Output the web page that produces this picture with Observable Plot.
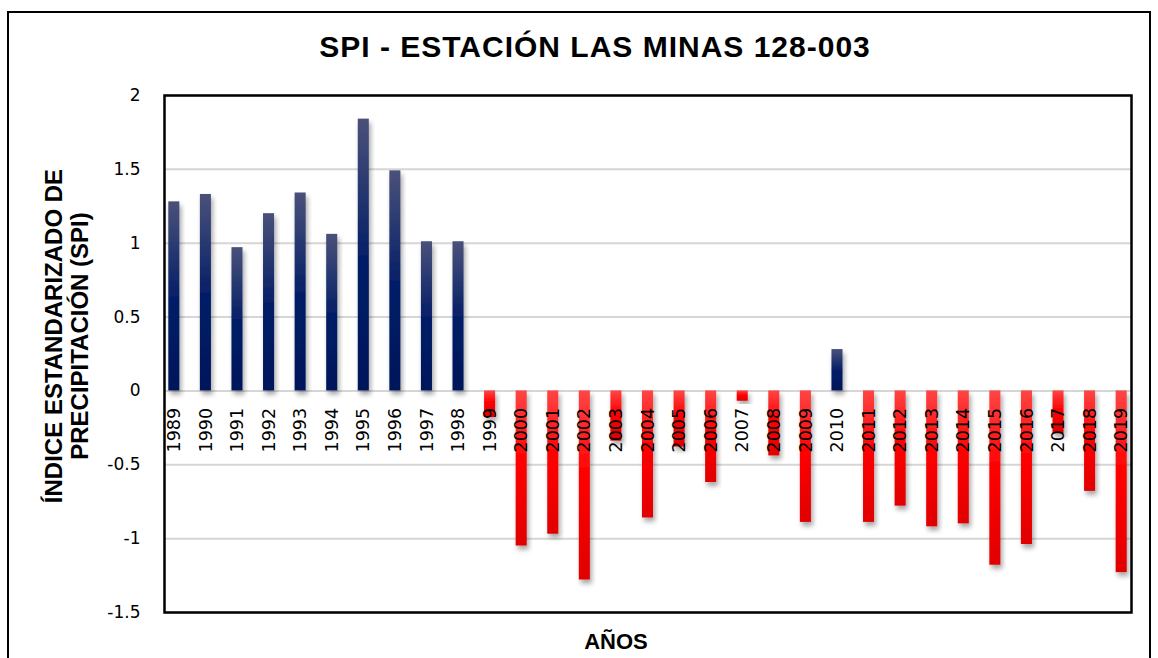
<!DOCTYPE html>
<html>
<head>
<meta charset="utf-8">
<script src="https://cdn.jsdelivr.net/npm/d3@7"></script>
<script src="https://cdn.jsdelivr.net/npm/@observablehq/plot@0.6"></script>
<style>
  body { margin: 0; background: #fff; }
  #wrap { position: relative; width: 1158px; height: 658px; overflow: hidden; background: #fff; }
  #border { position: absolute; left: 7px; top: 11px; width: 1140px; height: 700px; border: 2px solid #000; }
  #chart { position: absolute; left: 0; top: 0; }
  .t { position: absolute; font-family: "Liberation Sans", Arial, sans-serif; font-weight: bold; color: #000; white-space: nowrap; }
  #title { left: 0; width: 1190px; top: 32px; text-align: center; font-size: 30px; line-height: 30px; letter-spacing: 1px; }
  #xlab { left: 416px; width: 400px; top: 631px; text-align: center; font-size: 22px; line-height: 22px; }
  #ylab { left: -133px; top: 310px; width: 400px; height: 52px; text-align: center; font-size: 24px; line-height: 26px; transform: rotate(-90deg); transform-origin: 200px 26px; }
</style>
</head>
<body>
<div id="wrap">
  <div id="border"></div>
  <div id="chart"></div>
  <div class="t" id="title">SPI - ESTACIÓN LAS MINAS 128-003</div>
  <div class="t" id="ylab">ÍNDICE ESTANDARIZADO DE<br>PRECIPITACIÓN (SPI)</div>
  <div class="t" id="xlab">AÑOS</div>
</div>
<script>
const years = ["1989","1990","1991","1992","1993","1994","1995","1996","1997","1998","1999","2000","2001","2002","2003","2004","2005","2006","2007","2008","2009","2010","2011","2012","2013","2014","2015","2016","2017","2018","2019"];
const spi = [1.28,1.33,0.97,1.20,1.34,1.06,1.84,1.49,1.01,1.01,-0.18,-1.05,-0.97,-1.28,-0.34,-0.86,-0.38,-0.62,-0.07,-0.44,-0.89,0.28,-0.89,-0.78,-0.92,-0.90,-1.18,-1.04,-0.29,-0.68,-1.23];
const yTicks = [-1.5,-1,-0.5,0,0.5,1,1.5,2];

const data = years.map((year, i) => ({year, spi: spi[i]}));
const pos = data.filter(d => d.spi >= 0);
const neg = data.filter(d => d.spi < 0);

const plot = Plot.plot({
  width: 1158,
  height: 658,
  marginLeft: 164,
  marginRight: 27,
  marginTop: 95,
  marginBottom: 46,
  style: {fontFamily: "DejaVu Sans, sans-serif", fontSize: "17px", color: "#000", background: "transparent", overflow: "visible"},
  x: {type: "band", domain: years, paddingInner: 0.65, paddingOuter: 0.136, round: false, axis: null},
  y: {domain: [-1.5, 2], ticks: yTicks, tickSize: 0, tickPadding: 24, tickFormat: d => String(d), label: null},
  marks: [
    Plot.ruleY(yTicks, {stroke: "#d6d6d6", strokeWidth: 2}),
    Plot.barY(pos, {x: "year", y1: 0, y2: "spi", fill: "url(#gBlue)"}),
    Plot.barY(neg, {x: "year", y1: 0, y2: "spi", fill: "url(#gRed)"}),
    Plot.text(data, {x: "year", y: 0, text: "year", rotate: -90, textAnchor: "end", dy: 17, fontSize: 17.5, fill: "#000"}),
    Plot.frame({stroke: "#000", strokeWidth: 2.5})
  ]
});

const ns = "http://www.w3.org/2000/svg";
const defs = document.createElementNS(ns, "defs");
defs.innerHTML = `
  <linearGradient id="gBlue" x1="0" y1="0" x2="0" y2="1">
    <stop offset="0" stop-color="#4a5179"/>
    <stop offset="0.55" stop-color="#001b66"/>
    <stop offset="1" stop-color="#00185a"/>
  </linearGradient>
  <linearGradient id="gRed" x1="0" y1="0" x2="0" y2="1">
    <stop offset="0" stop-color="#ff4545"/>
    <stop offset="0.45" stop-color="#ff0000"/>
    <stop offset="1" stop-color="#e00000"/>
  </linearGradient>
  <filter id="shadow" x="-50%" y="-20%" width="200%" height="150%">
    <feDropShadow dx="2" dy="4" stdDeviation="2.5" flood-color="#000" flood-opacity="0.35"/>
  </filter>`;
plot.insertBefore(defs, plot.firstChild);
plot.querySelectorAll('g[aria-label="bar"] rect').forEach(r => r.setAttribute("filter", "url(#shadow)"));

document.getElementById("chart").appendChild(plot);
</script>
</body>
</html>
